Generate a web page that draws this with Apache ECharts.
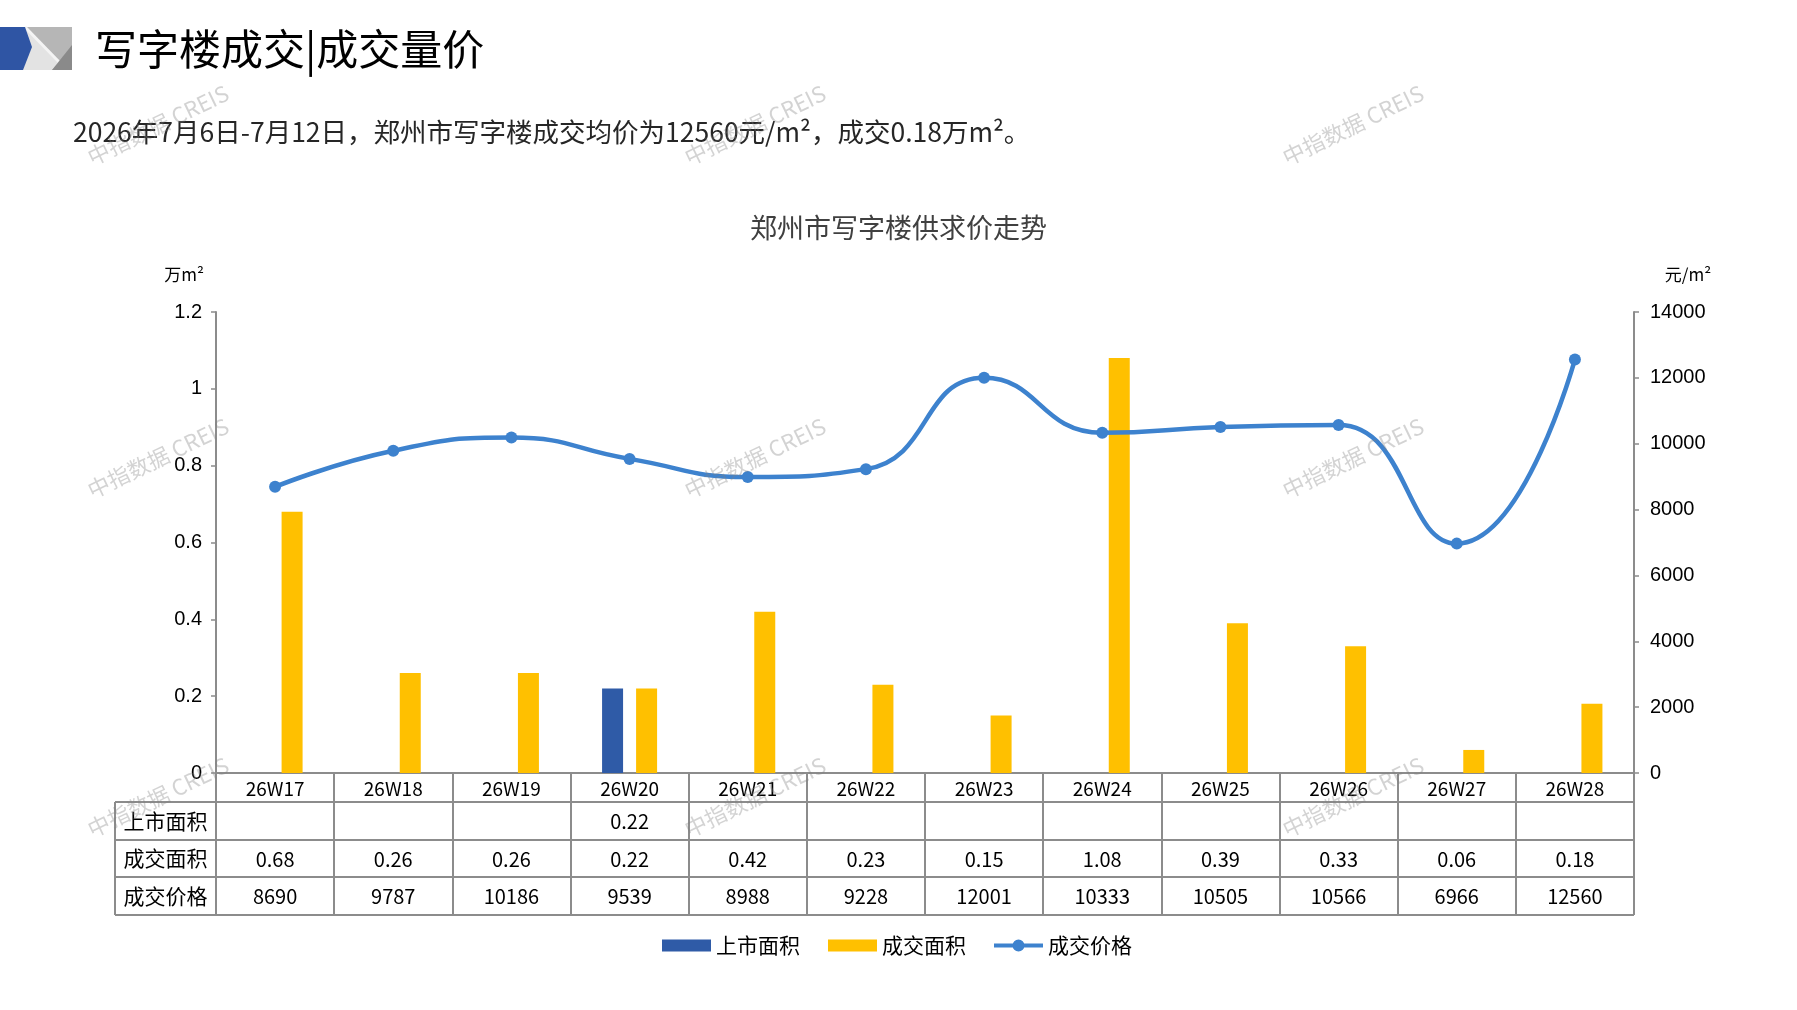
<!DOCTYPE html>
<html>

<head>
  <meta charset="utf-8">
  <script src="https://cdn.jsdelivr.net/npm/echarts@6/dist/echarts.min.js"></script>
</head>

<style>
  html,
  body {
    margin: 0;
    width: 100%;
    height: 100%;
    background: #fff;
  }
</style>

<body>
  <div id="main" style="width: 1797px;height:1010px;"></div>

  <script>
    // 数据
    var weeks = ['26W17', '26W18', '26W19', '26W20', '26W21', '26W22', '26W23', '26W24', '26W25', '26W26', '26W27', '26W28'];
    var supplyArea = [null, null, null, 0.22, null, null, null, null, null, null, null, null];
    var dealArea = [0.68, 0.26, 0.26, 0.22, 0.42, 0.23, 0.15, 1.08, 0.39, 0.33, 0.06, 0.18];
    var dealPrice = [8690, 9787, 10186, 9539, 8988, 9228, 12001, 10333, 10505, 10566, 6966, 12560];
    var rowNames = ['上市面积', '成交面积', '成交价格'];

    var CJK = '"Noto Sans CJK SC", sans-serif';
    var NUM = '"Liberation Sans", Arial, sans-serif';
    var lineGray = '#8c8c8c';

    // 表格位置
    var gridL = 216, gridR = 1634, gridT = 312, gridB = 773;
    var tableL = 115;
    var rowLines = [802, 840, 877, 915];
    var rowCenters = [821, 858.5, 896];

    // 图例里的折线图标：粗线 + 圆点 (49 x 12)
    var lineIcon = 'path://M0,4 H19 V8 H0 Z M30,4 H49 V8 H30 Z M18.5,6 A6,6 0 1 1 30.5,6 A6,6 0 1 1 18.5,6 Z';

    var myChart = echarts.init(document.getElementById('main'));

    function cellText(v) {
      return v === null || v === undefined ? '\u00a0' : String(v);
    }

    var graphics = [];

    // 左上角图标
    graphics.push({ type: 'rect', shape: { x: 0, y: 27, width: 72, height: 43 }, style: { fill: '#b6b6b6' } });
    graphics.push({ type: 'polygon', shape: { points: [[25, 27], [60, 62], [52, 70], [23, 70]] }, style: { fill: '#e3e3e3' } });
    graphics.push({ type: 'polyline', shape: { points: [[25, 27], [60, 63]] }, style: { stroke: '#f4f4f4', lineWidth: 3 } });
    graphics.push({ type: 'polygon', shape: { points: [[52, 70], [72, 70], [72, 45]] }, style: { fill: '#8a8a8a' } });
    graphics.push({ type: 'polygon', shape: { points: [[0, 27], [25, 27], [32, 47], [23, 70], [0, 70]] }, style: { fill: '#2f55a4' } });

    // 标题
    graphics.push({
      type: 'text', x: 95, y: 49,
      style: { text: '写字楼成交|成交量价', font: '42px ' + CJK, fill: '#000', verticalAlign: 'middle' }
    });
    graphics.push({
      type: 'text', x: 73, y: 132,
      style: { text: '2026年7月6日-7月12日，郑州市写字楼成交均价为12560元/m²，成交0.18万m²。', font: '26.5px ' + CJK, fill: '#262626', verticalAlign: 'middle' }
    });

    // 单位
    graphics.push({ type: 'text', x: 184, y: 275, style: { text: '万m²', font: '17px ' + CJK, fill: '#000', align: 'center', verticalAlign: 'middle' } });
    graphics.push({ type: 'text', x: 1688, y: 275, style: { text: '元/m²', font: '17px ' + CJK, fill: '#000', align: 'center', verticalAlign: 'middle' } });

    // 表格横线和左列
    rowLines.forEach(function (y) {
      graphics.push({ type: 'line', shape: { x1: tableL, y1: y, x2: gridR, y2: y }, style: { stroke: lineGray, lineWidth: 2 } });
    });
    graphics.push({ type: 'line', shape: { x1: tableL, y1: rowLines[0], x2: tableL, y2: rowLines[3] }, style: { stroke: lineGray, lineWidth: 2 } });
    rowNames.forEach(function (name, i) {
      graphics.push({
        type: 'text', x: (tableL + gridL) / 2, y: rowCenters[i],
        style: { text: name, font: '21px ' + CJK, fill: '#000', align: 'center', verticalAlign: 'middle' }
      });
    });

    // 水印
    [158, 755, 1353].forEach(function (x) {
      [125, 458, 797].forEach(function (y) {
        graphics.push({
          type: 'text', x: x, y: y, rotation: 0.45, z: 100,
          style: { text: '中指数据 CREIS', font: '22px ' + CJK, fill: 'rgba(130,130,130,0.35)', align: 'center', verticalAlign: 'middle' }
        });
      });
    });

    option = {
      backgroundColor: '#fff',
      animation: false,
      title: {
        text: '郑州市写字楼供求价走势',
        left: 'center',
        top: 209,
        textStyle: { fontSize: 27, fontWeight: 'normal', color: '#404040', fontFamily: CJK }
      },
      legend: {
        left: 657,
        top: 930,
        itemWidth: 49,
        itemHeight: 12,
        itemGap: 28,
        textStyle: { fontSize: 21, color: '#000', fontFamily: CJK },
        data: [{ name: '上市面积', icon: 'rect' }, { name: '成交面积', icon: 'rect' }, { name: '成交价格', icon: lineIcon }]
      },
      grid: {
        left: gridL,
        right: 1797 - gridR,
        top: gridT,
        bottom: 1010 - gridB
      },
      xAxis: {
        type: 'category',
        data: weeks,
        axisLine: { lineStyle: { color: lineGray, width: 2 } },
        axisTick: { show: true, interval: 0, length: rowLines[3] - gridB, lineStyle: { color: lineGray, width: 2 } },
        axisLabel: {
          interval: 0,
          margin: 1,
          formatter: function (value, idx) {
            return '{c|' + value + '}\n{v|' + cellText(supplyArea[idx]) + '}\n{v|' +
              cellText(dealArea[idx]) + '}\n{v|' + cellText(dealPrice[idx]) + '}';
          },
          rich: {
            c: { fontSize: 19, lineHeight: 29, color: '#000', fontFamily: CJK },
            v: { fontSize: 20, lineHeight: 37.5, color: '#000', fontFamily: CJK }
          }
        }
      },
      yAxis: [{
        type: 'value',
        min: 0,
        max: 1.2,
        interval: 0.2,
        position: 'left',
        splitLine: { show: false },
        axisLine: { show: true, lineStyle: { color: lineGray, width: 2 } },
        axisTick: { show: true, length: 5, lineStyle: { color: lineGray, width: 1.5 } },
        axisLabel: {
          fontSize: 20,
          color: '#000',
          fontFamily: NUM,
          margin: 14,
          formatter: function (v) { return String(Math.round(v * 10) / 10); }
        }
      }, {
        type: 'value',
        min: 0,
        max: 14000,
        interval: 2000,
        position: 'right',
        splitLine: { show: false },
        axisLine: { show: true, lineStyle: { color: lineGray, width: 2 } },
        axisTick: { show: true, length: 5, lineStyle: { color: lineGray, width: 1.5 } },
        axisLabel: {
          fontSize: 20,
          color: '#000',
          fontFamily: NUM,
          margin: 16,
          formatter: function (v) { return String(v); }
        }
      }],
      series: [{
        name: '上市面积',
        type: 'bar',
        data: supplyArea,
        barWidth: 21,
        barGap: '62%',
        itemStyle: { color: '#2f5ba7' }
      }, {
        name: '成交面积',
        type: 'bar',
        data: dealArea,
        barWidth: 21,
        itemStyle: { color: '#ffc000' }
      }, {
        name: '成交价格',
        type: 'line',
        yAxisIndex: 1,
        data: dealPrice,
        smooth: 0.5,
        symbol: 'circle',
        symbolSize: 12,
        lineStyle: { color: '#3d82ce', width: 4.5 },
        itemStyle: { color: '#3d82ce' },
        z: 5
      }],
      graphic: graphics
    };

    myChart.setOption(option);
  </script>
</body>

</html>
